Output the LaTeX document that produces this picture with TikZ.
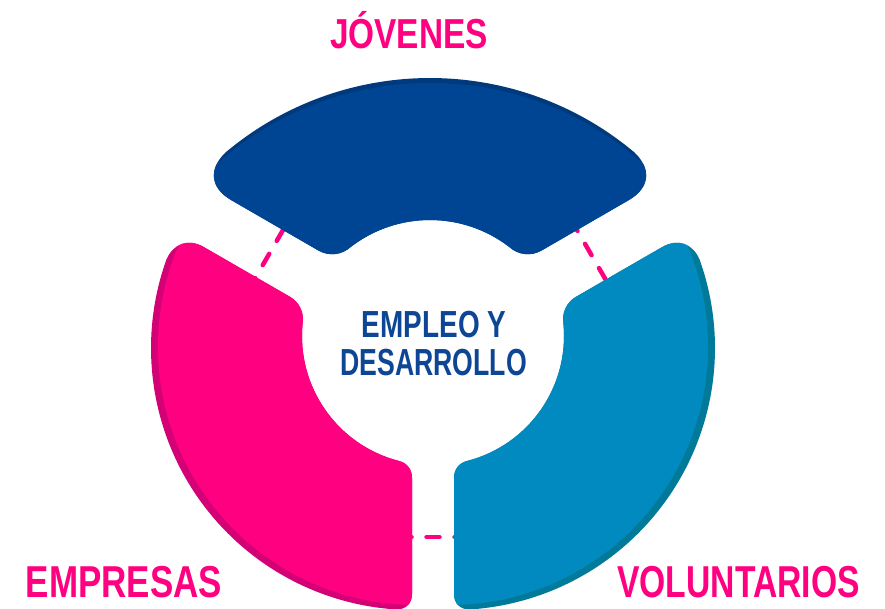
\documentclass[tikz,border=0pt]{standalone}
\usepackage{fontspec}
\setmainfont{Liberation Sans}
\usepackage{graphicx}
\usetikzlibrary{calc}
\definecolor{tdark}{RGB}{0,58,124}
\definecolor{tmain}{RGB}{0,69,148}
\definecolor{pdark}{RGB}{212,0,118}
\definecolor{pmain}{RGB}{255,0,128}
\definecolor{bdark}{RGB}{0,122,152}
\definecolor{bmain}{RGB}{0,138,191}
\definecolor{ctext}{RGB}{12,70,148}
\begin{document}
\begin{tikzpicture}[x=1pt,y=1pt,yscale=-1,
  dashline/.style={draw=pmain, line width=4.5pt, line cap=round, dash pattern=on 13pt off 15pt},
  lbl/.style={text=pmain, anchor=base, inner sep=0pt},
  ctr/.style={text=ctext, anchor=base, inner sep=0pt, font=\bfseries\fontsize{37.7}{44}\selectfont}]
\useasboundingbox (0,0) rectangle (885,608);
% ---- top sector points
\coordinate (TLo) at (196.53,180.07);
\coordinate (TRo) at (663.47,180.07);
\coordinate (TLi) at (335.7,260.5);
\coordinate (TRi) at (524.3,260.5);
\coordinate (TLoA) at (231.17,200.07);
\coordinate (TRoA) at (628.83,200.07);
\coordinate (TLoB) at ({430+318*cos(229.98)},{396+318*sin(229.98)});
\coordinate (TRoB) at ({430+318*cos(310.02)},{396+318*sin(310.02)});
\coordinate (TLiA) at (318.4,250.5);
\coordinate (TRiA) at (541.6,250.5);
\coordinate (TLiB) at ({430+130*cos(232.33)},{350+130*sin(232.33)});
\coordinate (TRiB) at ({430+130*cos(307.67)},{350+130*sin(307.67)});
% ---- pink sector points
\coordinate (PTo) at (178.0,232.15);
\coordinate (PToA) at (203.98,247.15);
\coordinate (PToB) at ({413+262*cos(199.68)},{348+262*sin(199.68)});
\coordinate (PTi) at (305.6,305.8);
\coordinate (PTiA) at (290.0,296.8);
\coordinate (PTiB) at ({431+129*cos(185.55)},{336+129*sin(185.55)});
\coordinate (PRi) at (412,463.6);
\coordinate (PRiA) at (412,477.6);
\coordinate (PRiB) at ({431+129*cos(104.69)},{336+129*sin(104.69)});
\coordinate (PRo) at (412,610);
\coordinate (PRoA) at (412,594);
\coordinate (PRoB) at ({413+262*cos(93.72)},{348+262*sin(93.72)});
% ---- blue sector points
\coordinate (BTo) at (688.0,232.15);
\coordinate (BToA) at (662.02,247.15);
\coordinate (BToB) at ({453+262*cos(340.32)},{348+262*sin(340.32)});
\coordinate (BTi) at (560.4,305.8);
\coordinate (BTiA) at (576.0,296.8);
\coordinate (BTiB) at ({435+129*cos(-5.55)},{336+129*sin(-5.55)});
\coordinate (BRi) at (454,463.6);
\coordinate (BRiA) at (454,477.6);
\coordinate (BRiB) at ({435+129*cos(75.31)},{336+129*sin(75.31)});
\coordinate (BRo) at (454,610);
\coordinate (BRoA) at (454,594);
\coordinate (BRoB) at ({453+262*cos(86.28)},{348+262*sin(86.28)});
% ---- paths
\def\toppath{(TLoA) .. controls ($(TLoA)!0.6!(TLo)$) and ($(TLoB)!0.6!(TLo)$) .. (TLoB)
  arc[start angle=229.98, end angle=310.02, radius=318]
  .. controls ($(TRoB)!0.6!(TRo)$) and ($(TRoA)!0.6!(TRo)$) .. (TRoA) -- (TRiA)
  .. controls ($(TRiA)!0.6!(TRi)$) and ($(TRiB)!0.6!(TRi)$) .. (TRiB)
  arc[start angle=307.67, end angle=232.33, radius=130]
  .. controls ($(TLiB)!0.6!(TLi)$) and ($(TLiA)!0.6!(TLi)$) .. (TLiA) -- cycle}
\def\pinkpath{(PToA) -- (PTiA) .. controls ($(PTiA)!0.6!(PTi)$) and ($(PTiB)!0.6!(PTi)$) .. (PTiB)
  arc[start angle=185.55, end angle=104.69, radius=129]
  .. controls ($(PRiB)!0.6!(PRi)$) and ($(PRiA)!0.6!(PRi)$) .. (PRiA) -- (PRoA)
  .. controls ($(PRoA)!0.6!(PRo)$) and ($(PRoB)!0.6!(PRo)$) .. (PRoB)
  arc[start angle=93.72, end angle=199.68, radius=262]
  .. controls ($(PToB)!0.6!(PTo)$) and ($(PToA)!0.6!(PTo)$) .. (PToA) -- cycle}
\def\bluepath{(BToA) -- (BTiA) .. controls ($(BTiA)!0.6!(BTi)$) and ($(BTiB)!0.6!(BTi)$) .. (BTiB)
  arc[start angle=-5.55, end angle=75.31, radius=129]
  .. controls ($(BRiB)!0.6!(BRi)$) and ($(BRiA)!0.6!(BRi)$) .. (BRiA) -- (BRoA)
  .. controls ($(BRoA)!0.6!(BRo)$) and ($(BRoB)!0.6!(BRo)$) .. (BRoB)
  arc[start angle=86.28, end angle=-19.68, radius=262]
  .. controls ($(BToB)!0.6!(BTo)$) and ($(BToA)!0.6!(BTo)$) .. (BToA) -- cycle}
% ---- dashed connectors (behind the shapes)
\coordinate (d1s) at (297.25,205.32); \coordinate (d1e) at (248,290.6);
\coordinate (d2s) at (571,219.6);     \coordinate (d2e) at (612,290.6);
\coordinate (d3s) at (398.5,537);     \coordinate (d3e) at (470,537);
\draw[dashline] (d1s) -- (d1e);
\draw[dashline] (d2s) -- (d2e);
\draw[dashline] (d3s) -- (d3e);
% ---- shapes
\fill[tdark] \toppath;
\begin{scope}\clip \toppath; \fill[tmain] (430,404.5) circle[radius=321.5];\end{scope}
\fill[pdark] \pinkpath;
\begin{scope}\clip \pinkpath; \fill[pmain] (416.5,346.5) circle[radius=258.5];\end{scope}
\fill[bdark] \bluepath;
\begin{scope}\clip \bluepath; \fill[bmain] (449.5,346.5) circle[radius=258.5];\end{scope}
% ---- texts
\node[lbl, font=\bfseries\fontsize{41.9}{50}\selectfont] (jov) at (409,48) {\scalebox{0.797}[1]{JÓVENES}};
\node[lbl, font=\bfseries\fontsize{44.7}{52}\selectfont] (empr) at (124,597) {\scalebox{0.782}[1]{EMPRESAS}};
\node[lbl, font=\bfseries\fontsize{44.7}{52}\selectfont] (vol) at (738.5,597) {\scalebox{0.753}[1]{VOLUNTARIOS}};
\node[ctr] (emp) at (434,337) {\scalebox{0.74}[1]{EMPLEO Y}};
\node[ctr] (des) at (433.5,375) {\scalebox{0.707}[1]{DESARROLLO}};
\end{tikzpicture}
\end{document}
